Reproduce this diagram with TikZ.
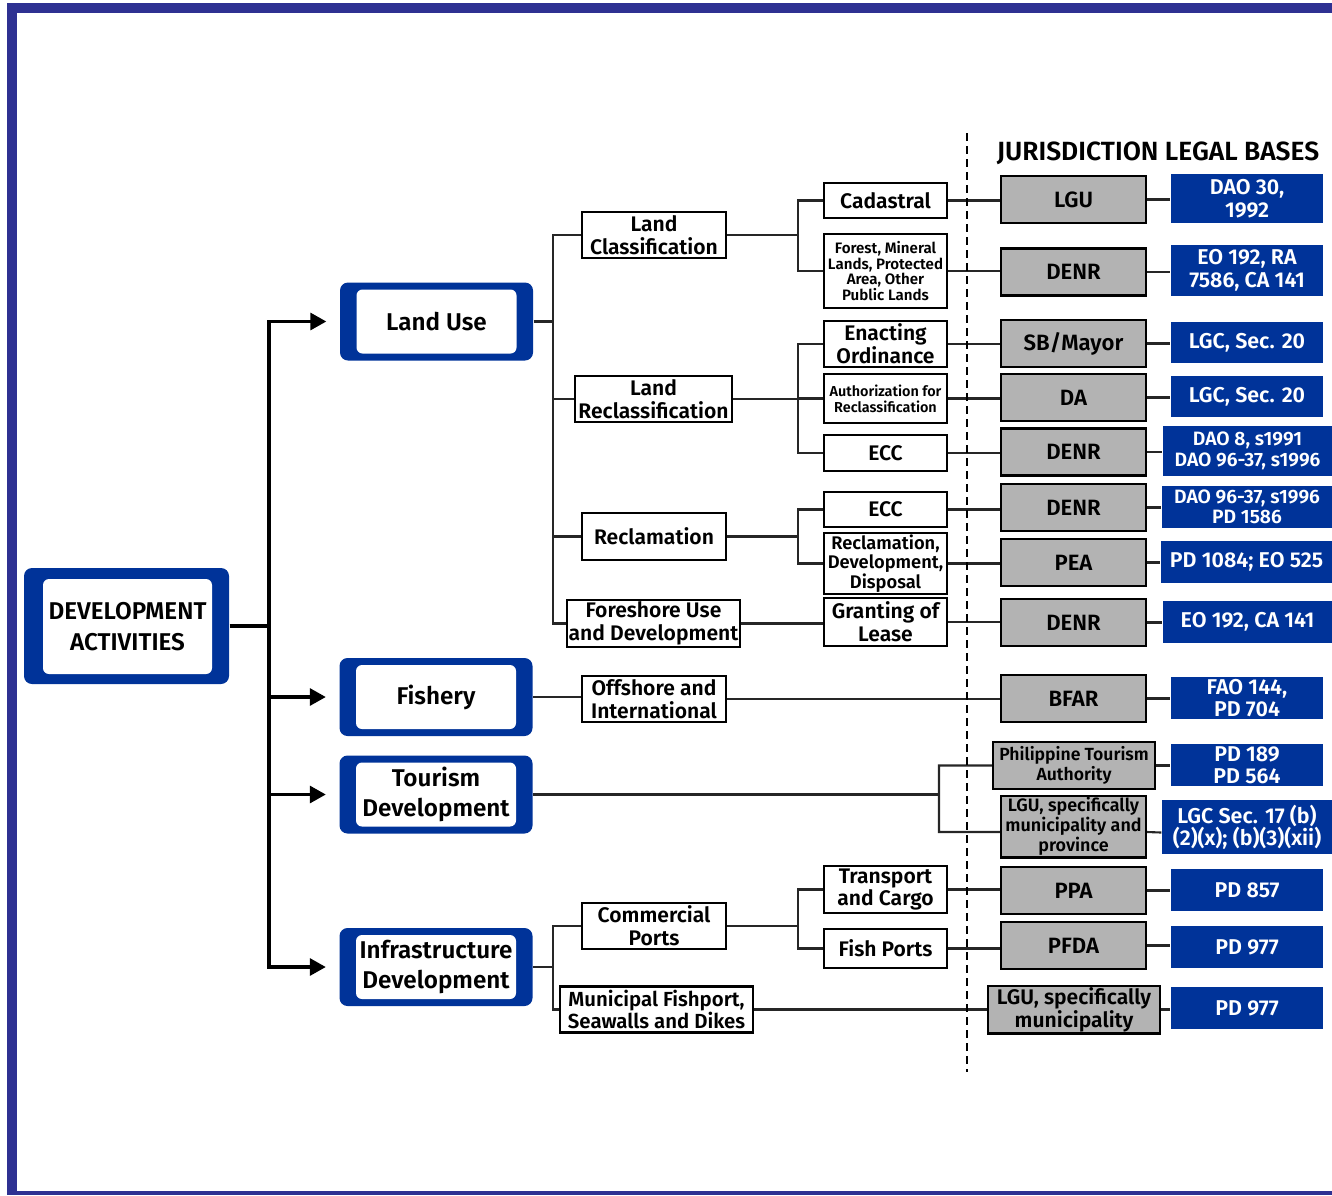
\documentclass[tikz,border=0pt]{standalone}
\usepackage{fontspec}
\setmainfont{Fira Sans}[BoldFont={Fira Sans SemiBold}]
\usetikzlibrary{arrows.meta, calc}
\definecolor{framecol}{RGB}{46,49,146}
\definecolor{lawblue}{RGB}{0,51,153}
\definecolor{agencygray}{RGB}{179,179,179}
\tikzset{
  fsz/.style 2 args={font=\fontsize{#1}{#2}\selectfont\bfseries},
  actout/.style={fill=lawblue, rounded corners=0.8mm, minimum width=1.93cm, minimum height=0.78cm, inner sep=0pt},
  actin/.style={fill=white, rounded corners=0.6mm, minimum width=1.6cm, minimum height=0.64cm, inner sep=0pt, align=center, fsz={6.9}{8.6}},
  subbox/.style={draw, line width=0.6pt, fill=white, align=center, inner sep=0.5pt, minimum width=1.44cm, minimum height=0.46cm, fsz={6.0}{6.5}},
  taskbox/.style={subbox, minimum width=1.23cm},
  agency/.style={draw, line width=0.6pt, fill=agencygray, align=center, inner sep=0.5pt, minimum width=1.45cm, minimum height=0.47cm, fsz={6.3}{6.8}},
  law/.style={fill=lawblue, text=white, align=center, inner sep=0.5pt, minimum width=1.52cm, minimum height=0.42cm, fsz={6.1}{6.4}},
  link/.style={draw=black!85, line width=0.6pt},
  trunk/.style={draw=black, line width=0.9pt},
  flow/.style={trunk, -{Triangle[length=1.6mm, width=1.7mm]}},
}
\begin{document}
\begin{tikzpicture}
\useasboundingbox (0,0) rectangle (13.32,-11.95);
% frame
\fill[framecol] (0.07,-0.03) rectangle (13.32,-0.13);
\fill[framecol] (0.07,-0.03) rectangle (0.17,-11.95);
\fill[framecol] (0.07,-11.91) rectangle (13.32,-11.95);

% activities
\node[actout, minimum width=2.05cm, minimum height=1.16cm] (dev) at (1.265,-6.26) {};
\node[actin, minimum width=1.69cm, minimum height=0.95cm, fsz={6.9}{8.6}] at (1.275,-6.265) {DEVELOPMENT\\ACTIVITIES};
\node[actout] (lu) at (4.365,-3.215) {};
\node[actin] at (lu) {Land Use};
\node[actout] (fish) at (4.36,-6.97) {};
\node[actin] at (fish) {Fishery};
\node[actout] (tour) at (4.36,-7.945) {};
\node[actin] at (tour) {Tourism\\Development};
\node[actout] (inf) at (4.36,-9.67) {};
\node[actin] at (inf) {Infrastructure\\Development};

% second level
\node[subbox] (lc) at (6.54,-2.35) {Land\\Classification};
\node[subbox, minimum width=1.57cm] (lr) at (6.535,-3.99) {Land\\Reclassification};
\node[subbox, minimum height=0.47cm] (rc) at (6.54,-5.365) {Reclamation};
\node[subbox, minimum width=1.73cm] (fs) at (6.535,-6.235) {Foreshore Use\\and Development};
\node[subbox] (off) at (6.54,-6.99) {Offshore and\\International};
\node[subbox] (cp) at (6.54,-9.26) {Commercial\\Ports};
\node[subbox, minimum width=1.93cm, fsz={5.8}{6.5}] (mf) at (6.565,-10.095) {Municipal Fishport,\\Seawalls and Dikes};

% third level
\node[taskbox, minimum height=0.35cm] (cad) at (8.855,-2.005) {Cadastral};
\node[taskbox, minimum height=0.74cm, fsz={4.3}{4.5}] (fml) at (8.855,-2.71) {Forest, Mineral\\Lands, Protected\\Area, Other\\Public Lands};
\node[taskbox] (eo) at (8.855,-3.44) {Enacting\\Ordinance};
\node[taskbox, minimum height=0.49cm, fsz={4.1}{4.6}] (afr) at (8.855,-3.985) {Authorization for\\Reclassification};
\node[taskbox, minimum height=0.36cm] (ecca) at (8.855,-4.53) {ECC};
\node[taskbox, minimum height=0.35cm] (eccb) at (8.855,-5.095) {ECC};
\node[taskbox, minimum height=0.61cm, fsz={5.2}{5.6}] (rdd) at (8.855,-5.635) {Reclamation,\\Development,\\Disposal};
\node[taskbox, minimum height=0.48cm] (gol) at (8.855,-6.22) {Granting of\\Lease};
\node[taskbox, minimum height=0.47cm] (tc) at (8.855,-8.895) {Transport\\and Cargo};
\node[taskbox, minimum height=0.39cm] (fp) at (8.855,-9.485) {Fish Ports};

% jurisdiction
\node[font=\fontsize{7.5}{8}\selectfont\bfseries] (hdr) at (11.58,-1.53) {JURISDICTION LEGAL BASES};
\node[agency] (g1) at (10.735,-1.995) {LGU};
\node[agency] (g2) at (10.735,-2.72) {DENR};
\node[agency] (g3) at (10.735,-3.435) {SB/Mayor};
\node[agency] (g4) at (10.735,-3.975) {DA};
\node[agency] (g5) at (10.735,-4.52) {DENR};
\node[agency] (g6) at (10.735,-5.075) {DENR};
\node[agency] (g7) at (10.735,-5.625) {PEA};
\node[agency] (g8) at (10.735,-6.225) {DENR};
\node[agency] (g9) at (10.735,-6.985) {BFAR};
\node[agency, minimum width=1.62cm, fsz={5.0}{5.8}] (g10) at (10.74,-7.655) {Philippine Tourism\\Authority};
\node[agency, minimum height=0.61cm, fsz={5.1}{5.7}] (g11) at (10.735,-8.265) {LGU, specifically\\municipality and\\province};
\node[agency] (g12) at (10.735,-8.905) {PPA};
\node[agency] (g13) at (10.735,-9.455) {PFDA};
\node[agency, minimum width=1.72cm, fsz={6.0}{6.5}] (g14) at (10.74,-10.095) {LGU, specifically\\municipality};

% legal bases
\node[law, minimum height=0.49cm] (b1) at (12.47,-1.985) {DAO 30,\\1992};
\node[law, minimum height=0.51cm] (b2) at (12.47,-2.705) {EO 192, RA\\7586, CA 141};
\node[law, minimum height=0.41cm] (b3) at (12.47,-3.425) {LGC, Sec. 20};
\node[law, minimum height=0.41cm] (b4) at (12.47,-3.965) {LGC, Sec. 20};
\node[law, minimum width=1.69cm, minimum height=0.50cm, fsz={5.5}{5.8}] (b5) at (12.475,-4.51) {DAO 8, s1991\\DAO 96-37, s1996};
\node[law, minimum width=1.70cm, fsz={5.5}{5.8}] (b6) at (12.47,-5.07) {DAO 96-37, s1996\\PD 1586};
\node[law, minimum width=1.71cm] (b7) at (12.465,-5.62) {PD 1084; EO 525};
\node[law, minimum width=1.69cm] (b8) at (12.475,-6.22) {EO 192, CA 141};
\node[law] (b9) at (12.47,-6.98) {FAO 144,\\PD 704};
\node[law] (b10) at (12.47,-7.65) {PD 189\\PD 564};
\node[law, minimum width=1.70cm, minimum height=0.54cm] (b11) at (12.47,-8.27) {LGC Sec. 17 (b)\\(2)(x); (b)(3)(xii)};
\node[law] (b12) at (12.47,-8.90) {PD 857};
\node[law] (b13) at (12.47,-9.47) {PD 977};
\node[law] (b14) at (12.47,-10.08) {PD 977};

% main trunk
\coordinate (tr) at (2.69,-6.26);
\draw[trunk] (dev.east) -- (tr);
\draw[flow] (tr) |- ([xshift=-1.3mm]lu.west);
\draw[flow] (tr) |- ([xshift=-1.3mm]inf.west);
\draw[flow] (tr |- fish) -- ([xshift=-1.3mm]fish.west);
\draw[flow] (tr |- tour) -- ([xshift=-1.3mm]tour.west);

% land use
\coordinate (s1) at (5.53,-3.215);
\coordinate (s2) at (7.98,0);
\draw[link] (lu.east) -- (s1);
\draw[link] (lc.west) -- (s1 |- lc) -- (s1 |- fs) -- (fs.west);
\draw[link] (s1 |- lr) -- (lr.west);
\draw[link] (s1 |- rc) -- (rc.west);
\draw[link] (lc.east) -- (s2 |- lc);
\draw[link] (cad.west) -- (s2 |- cad) -- (s2 |- fml) -- (fml.west);
\draw[link] (lr.east) -- (s2 |- lr);
\draw[link] (eo.west) -- (s2 |- eo) -- (s2 |- ecca) -- (ecca.west);
\draw[link] (s2 |- afr) -- (afr.west);
\draw[link] (rc.east) -- (s2 |- rc);
\draw[link] (eccb.west) -- (s2 |- eccb) -- (s2 |- rdd) -- (rdd.west);
\draw[link] (fs.east) -- (fs.east -| gol.west);

% fishery
\draw[link] (fish.east) -- (fish.east -| off.west);
\draw[link] (off.east) -- (off.east -| g9.west);

% tourism
\coordinate (s3) at (9.39,-7.96);
\draw[link] (tour.east) -- (s3 |- tour.east);
\draw[link] (g10.west) -- (s3 |- g10) -- (s3 |- 0,-8.32) -- ([yshift=-0.55mm]g11.west);
\draw[link] (g10.east) -- (g10.east -| b10.west);
\draw[link] ([yshift=-0.55mm]g11.east) -- ([yshift=-0.55mm]b11.west);

% infrastructure
\coordinate (s4) at (5.53,-9.70);
\draw[link] (inf.east) -- (s4 |- inf);
\draw[link] (cp.west) -- (s4 |- cp) -- (s4 |- mf) -- (mf.west);
\draw[link] (cp.east) -- (s2 |- cp);
\draw[link] (tc.west) -- (s2 |- tc) -- (s2 |- fp) -- (fp.west);
\draw[link] (mf.east) -- (mf.east -| g14.west);

% to agencies and legal bases
\foreach \a/\b/\c in {cad/g1/b1, fml/g2/b2, eo/g3/b3, afr/g4/b4, ecca/g5/b5, eccb/g6/b6, rdd/g7/b7, gol/g8/b8, tc/g12/b12, fp/g13/b13}
{
  \draw[link] (\a.east) -- (\a.east -| \b.west);
  \draw[link] (\b.east) -- (\b.east -| \c.west);
}
\draw[link] (g9.east) -- (g9.east -| b9.west);
\draw[link] (g14.east) -- (g14.east -| b14.west);

% divider
\draw[line width=0.6pt, dash pattern=on 0.8mm off 0.5mm] (9.67,-1.33) -- (9.67,-10.72);
\end{tikzpicture}
\end{document}
